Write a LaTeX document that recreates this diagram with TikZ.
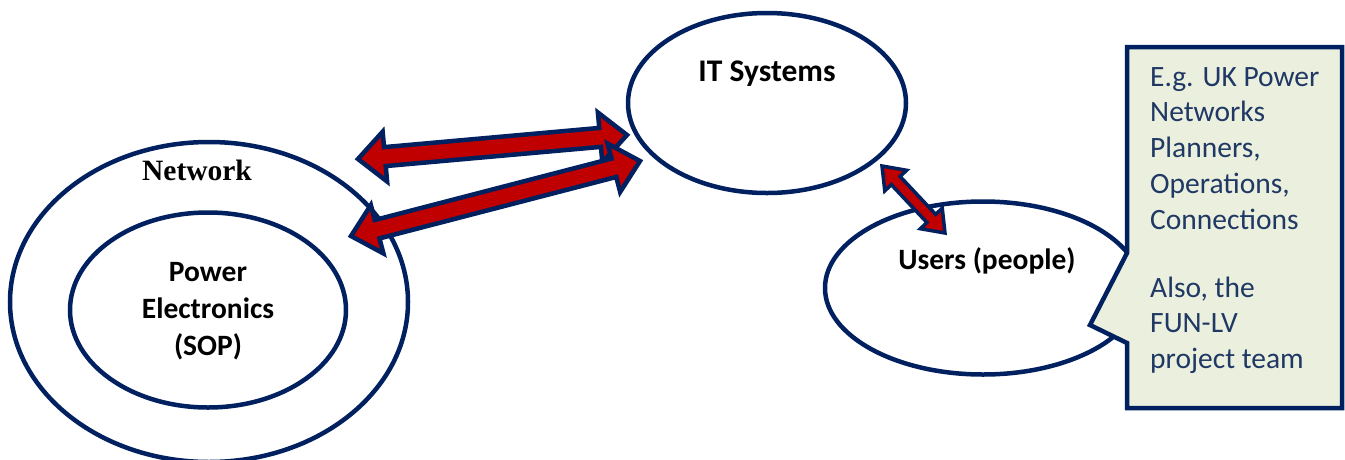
\documentclass[tikz,border=0pt]{standalone}
\usepackage{fontspec}
\setmainfont{Carlito}
\newfontfamily\timesfont{Liberation Serif}
\usetikzlibrary{calc,shapes.geometric}
\definecolor{navy}{RGB}{0,32,96}
\definecolor{arrred}{RGB}{192,0,0}
\definecolor{calloutfill}{RGB}{235,240,222}
\definecolor{callouttext}{RGB}{31,56,100}
\tikzset{
  ring/.style={ellipse, draw=navy, line width=4.5pt, fill=white, inner sep=0pt},
  barrow/.style={draw=navy, fill=arrred, line width=4.5pt, line join=miter, miter limit=10},
  sarrow/.style={draw=navy, fill=arrred, line width=3.5pt, line join=miter, miter limit=10},
  lbl/.style={font=\bfseries\fontsize{29.5}{37}\selectfont, align=center, inner sep=0pt},
  callout/.style={draw=navy, fill=calloutfill, line width=4.5pt, line join=miter},
  callouttxt/.style={font=\fontsize{29.5}{35.8}\selectfont, text=callouttext, align=left, inner sep=0pt}
}
% #1 from, #2 to, #3 head length, #4 head half width, #5 shaft half width, #6 style
\newcommand\blockarrow[6]{%
  \draw[#6] (#1) -- ($(#1)!#3!(#2)!#4!90:(#2)$) -- ($(#1)!#3!(#2)!#5!90:(#2)$)
    -- ($(#2)!#3!(#1)!#5!-90:(#1)$) -- ($(#2)!#3!(#1)!#4!-90:(#1)$) -- (#2)
    -- ($(#2)!#3!(#1)!#4!90:(#1)$) -- ($(#2)!#3!(#1)!#5!90:(#1)$)
    -- ($(#1)!#3!(#2)!#5!-90:(#2)$) -- ($(#1)!#3!(#2)!#4!-90:(#2)$) -- cycle;}
\begin{document}
\begin{tikzpicture}[x=1pt, y=-1pt]
\useasboundingbox[fill=white] (0,0) rectangle (1345,459);

% ellipses
\node[ring, minimum width=398pt, minimum height=320pt] (net) at (209,302) {};
\node[ring, minimum width=276pt, minimum height=195pt] (pe) at (208,310) {};
\node[ring, minimum width=278pt, minimum height=180pt] (it) at (767,103) {};
\node[ring, minimum width=316pt, minimum height=173pt] (users) at (983,288) {};

% labels
\node[font=\timesfont\bfseries\fontsize{29.5}{34}\selectfont, inner sep=0pt] (netlbl) at (197,170) {Network};
\node[lbl] (pelbl) at (208,311) {Power\\Electronics\\(SOP)};
\node[lbl, font=\bfseries\fontsize{31.5}{37}\selectfont] (itlbl) at (767,74) {IT Systems};
\node[lbl] (userslbl) at (987,261) {Users (people)};

% arrow end points
\coordinate (a1s) at (358,159);
\coordinate (a1e) at (627,135);
\coordinate (a2s) at (351,236);
\coordinate (a2e) at (640,161);
\coordinate (a3s) at (882,166);
\coordinate (a3e) at (945,233);

\blockarrow{a1s}{a1e}{27pt}{25pt}{9.5pt}{barrow}
\blockarrow{a2s}{a2e}{27pt}{25pt}{9.5pt}{barrow}
\blockarrow{a3s}{a3e}{20pt}{15pt}{6pt}{sarrow}

% callout
\draw[callout] (1127,47) coordinate (cbox) -- (1342,47) -- (1342,408) -- (1127,408)
  -- (1127,343) -- (1090,325) coordinate (ctip) -- (1127,253) -- cycle;
\node[callouttxt, anchor=north west] (ctext) at (1150,67)
  {E.g. UK Power\\Networks\\Planners,\\Operations,\\Connections\\[32pt]Also, the\\FUN-LV\\project team};
\end{tikzpicture}
\end{document}
